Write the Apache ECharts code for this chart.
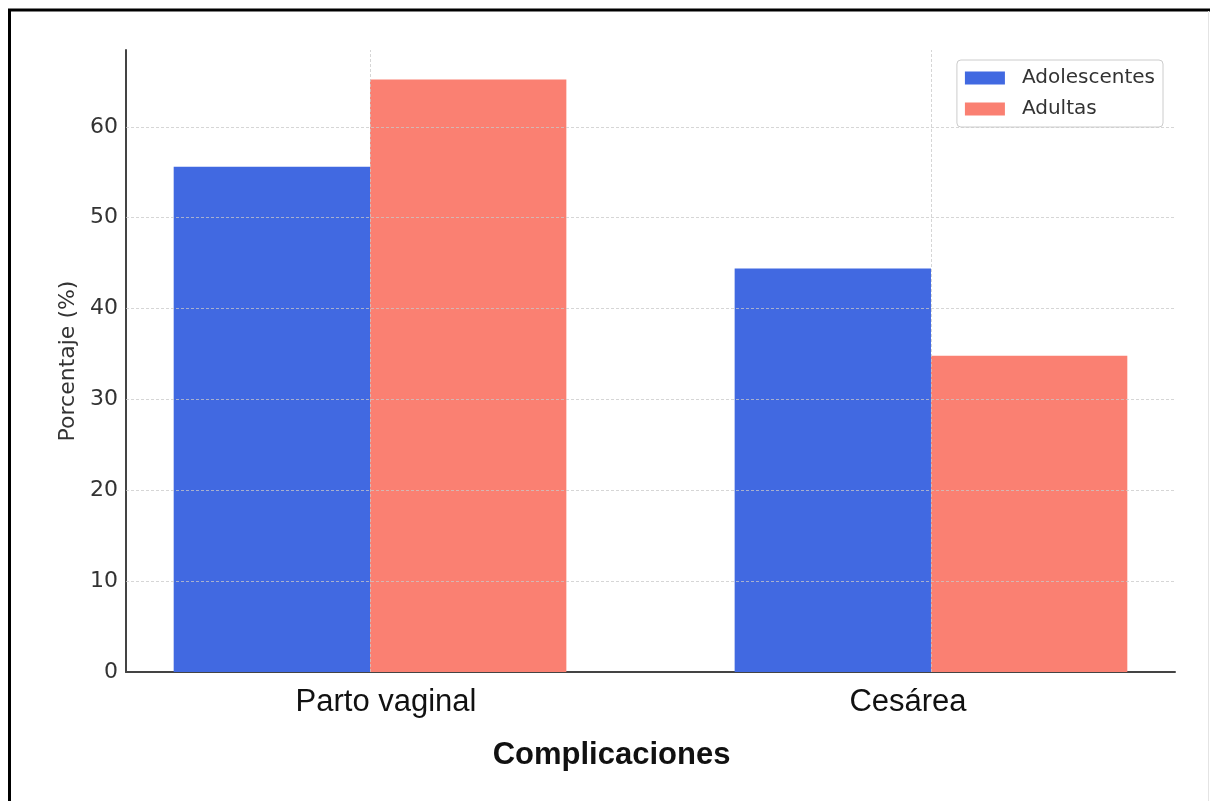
<!DOCTYPE html>
<html>
<head>
<meta charset="utf-8">
<script src="https://cdn.jsdelivr.net/npm/echarts@6/dist/echarts.min.js"></script>
<style>
html,body{margin:0;padding:0;background:#fff;}
#chart{width:1210px;height:801px;}
</style>
</head>
<body>
<div id="chart"></div>
<script>
const categories = ['Parto vaginal', 'Cesárea'];
const seriesNames = ['Adolescentes', 'Adultas'];
const adolescentes = [55.6, 44.4];
const adultas = [65.2, 34.8];
const yTicks = [0, 10, 20, 30, 40, 50, 60];
const colors = ['#4169E1', '#FA8072'];
const barW = 0.35;

const chart = echarts.init(document.getElementById('chart'), null, {renderer: 'canvas'});

function makeData(vals, offset) {
  return vals.map((v, i) => [i + offset, v]);
}
function renderBar(color) {
  return function (params, api) {
    const x = api.value(0), y = api.value(1);
    const p1 = api.coord([x - barW / 2, y]);
    const p2 = api.coord([x + barW / 2, 0]);
    return {
      type: 'rect',
      shape: {x: p1[0], y: p1[1], width: p2[0] - p1[0], height: p2[1] - p1[1]},
      style: {fill: color}
    };
  };
}

const gridLineData = yTicks.filter(v => v > 0).map(v => ({yAxis: v}))
  .concat(categories.map((c, i) => ({xAxis: i})));

const option = {
  backgroundColor: '#fff',
  animation: false,
  grid: {left: 126, right: 35, top: 50, bottom: 129},
  legend: {
    data: seriesNames,
    orient: 'vertical',
    right: 47,
    top: 60,
    icon: 'rect',
    itemWidth: 40,
    itemHeight: 13,
    itemGap: 11,
    padding: [8, 8, 8, 8],
    borderColor: '#cccccc',
    borderWidth: 1,
    borderRadius: 4,
    backgroundColor: 'rgba(255,255,255,0.8)',
    textStyle: {fontFamily: 'DejaVu Sans', fontSize: 20, color: '#333', padding: [0, 0, 0, 12]}
  },
  xAxis: {
    type: 'value',
    min: -0.435,
    max: 1.435,
    name: 'Complicaciones',
    nameLocation: 'middle',
    nameGap: 68,
    nameTextStyle: {fontFamily: 'Liberation Sans', fontWeight: 'bold', fontSize: 31, color: '#111', padding: [0, 78, 0, 0]},
    axisLine: {show: true, onZero: false, lineStyle: {color: '#444', width: 2}},
    axisTick: {show: false},
    splitLine: {show: false},
    axisLabel: {
      customValues: categories.map((c, i) => i),
      margin: 15,
      formatter: function (v) {
        const i = Math.round(v);
        return i === 0 ? '{a|' + categories[i] + '}' : '{b|' + categories[i] + '}';
      },
      rich: {
        a: {fontFamily: 'Liberation Sans', fontSize: 31, color: '#111', padding: [0, 0, 0, 32]},
        b: {fontFamily: 'Liberation Sans', fontSize: 31, color: '#111', padding: [0, 46, 0, 0]}
      }
    }
  },
  yAxis: {
    type: 'value',
    min: 0,
    max: 68.46,
    interval: 10,
    name: 'Porcentaje (%)',
    nameLocation: 'middle',
    nameGap: 47,
    nameTextStyle: {fontFamily: 'DejaVu Sans', fontSize: 22, color: '#333'},
    axisLine: {show: true, onZero: false, lineStyle: {color: '#444', width: 2}},
    axisTick: {show: false},
    splitLine: {show: false},
    axisLabel: {
      showMaxLabel: false,
      margin: 8,
      fontFamily: 'DejaVu Sans',
      fontSize: 22,
      color: '#333'
    }
  },
  series: [
    {
      name: seriesNames[0],
      type: 'custom',
      itemStyle: {color: colors[0]},
      renderItem: renderBar(colors[0]),
      encode: {x: 0, y: 1},
      data: makeData(adolescentes, -barW / 2),
      z: 2
    },
    {
      name: seriesNames[1],
      type: 'custom',
      itemStyle: {color: colors[1]},
      renderItem: renderBar(colors[1]),
      encode: {x: 0, y: 1},
      data: makeData(adultas, barW / 2),
      z: 2,
      markLine: {
        silent: true,
        symbol: 'none',
        label: {show: false},
        lineStyle: {type: [3, 2], color: 'rgba(200,200,200,0.75)', width: 1},
        data: gridLineData,
        z: 5
      }
    }
  ],
  graphic: [
    {type: 'line', shape: {x1: 9.5, y1: 9, x2: 9.5, y2: 801}, style: {stroke: '#000', lineWidth: 3}},
    {type: 'line', shape: {x1: 8, y1: 10, x2: 1210, y2: 10}, style: {stroke: '#000', lineWidth: 3}},
    {type: 'line', shape: {x1: 1208.5, y1: 11, x2: 1208.5, y2: 801}, style: {stroke: '#e4e4e4', lineWidth: 1}}
  ]
};
chart.setOption(option);
</script>
</body>
</html>
